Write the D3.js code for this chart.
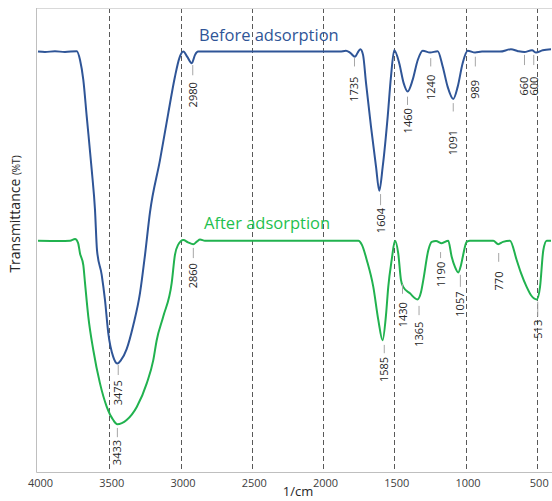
<!DOCTYPE html>
<html>
<head>
<meta charset="utf-8">
<script src="https://cdn.jsdelivr.net/npm/d3@7"></script>
<style>
  body { margin: 0; background: #fff; }
  svg { display: block; font-family: "Open Sans", "Noto Sans", sans-serif; }
</style>
</head>
<body>
<div id="ftir"></div>
<script>
// FTIR spectra before / after adsorption

// spectrum before adsorption (wavenumber 1/cm, transmittance)
const waveBefore = [4000, 3951, 3881, 3811, 3728, 3705, 3682, 3658, 3623, 3600, 3586, 3553, 3530, 3507, 3472, 3444, 3418, 3378, 3331, 3284, 3249, 3214, 3144, 3086, 3039, 3008, 2980, 2951, 2921, 2898, 2877, 1881, 1839, 1811, 1775, 1758, 1738, 1719, 1698, 1663, 1628, 1605, 1581, 1546, 1523, 1500, 1465, 1434, 1406, 1371, 1335, 1300, 1249, 1195, 1160, 1125, 1086, 1055, 1020, 985, 933, 884, 758, 681, 632, 587, 533, 505, 458, 400];
const transBefore = [90.6, 90.5, 90.7, 90.5, 90.7, 88.8, 84.5, 76.6, 65.1, 56.5, 47.8, 42.5, 37.1, 30.0, 24.8, 23.4, 24.1, 26.5, 31.7, 38.6, 46.8, 56.0, 67.2, 77.3, 85.2, 89.2, 90.6, 89.4, 88.1, 89.9, 90.6, 90.6, 90.8, 90.4, 89.5, 90.3, 91.1, 89.9, 83.8, 74.4, 65.8, 60.6, 65.8, 76.6, 85.2, 90.9, 88.1, 83.8, 82.0, 84.5, 88.8, 90.8, 90.4, 90.7, 87.4, 83.0, 80.4, 83.0, 88.1, 90.8, 90.4, 90.6, 90.6, 91.1, 90.7, 90.5, 90.9, 90.4, 90.9, 91.1];

// spectrum after adsorption
const waveAfter = [4000, 3846, 3775, 3740, 3719, 3705, 3682, 3670, 3647, 3612, 3565, 3518, 3472, 3444, 3378, 3307, 3237, 3191, 3167, 3121, 3062, 3039, 3018, 2980, 2947, 2910, 2884, 2863, 2828, 1752, 1726, 1693, 1647, 1612, 1582, 1558, 1542, 1518, 1495, 1472, 1453, 1437, 1390, 1338, 1312, 1296, 1261, 1237, 1207, 1167, 1121, 1097, 1074, 1051, 1033, 1019, 992, 968, 805, 770, 737, 688, 641, 611, 571, 540, 500, 477, 454, 430, 400];
const transAfter = [49.85, 49.8, 49.85, 50.2, 49.4, 47.1, 44.6, 40.7, 33.5, 26.3, 19.1, 14.1, 11.2, 10.3, 11.2, 14.0, 19.1, 24.1, 28.4, 33.5, 40.7, 46.8, 48.9, 50.0, 49.5, 49.1, 49.7, 50.1, 49.85, 49.85, 48.9, 45.7, 39.9, 32.8, 28.4, 33.8, 39.9, 45.7, 49.85, 47.1, 41.4, 39.9, 38.5, 37.2, 38.8, 41.4, 47.8, 49.6, 49.8, 49.3, 49.85, 46.4, 44.2, 43.0, 44.4, 46.4, 49.6, 49.85, 49.85, 49.1, 49.6, 49.85, 45.7, 42.9, 39.9, 38.1, 37.2, 39.9, 47.8, 49.85, 49.85];

// peak annotations: text, where it sits (1/cm), tick top, tick bottom, text top (transmittance)
const peaksBefore = [
  ["3475", 3437, 23.1, 20.9, 19.8],
  ["2980", 2914, 87.7, 85.5, 84.0],
  ["1735", 1779, 89.2, 87.4, 85.2],
  ["1604", 1596, 59.9, 57.5, 56.9],
  ["1460", 1407, 80.9, 79.1, 78.4],
  ["1240", 1244, 89.2, 87.4, 85.6],
  ["1091", 1086, 79.5, 77.7, 73.7],
  ["989", 931, 89.5, 87.4, 84.5],
  ["660", 586, 89.9, 87.7, 85.2],
  ["600", 521, 89.9, 87.7, 85.2]
];
const peaksAfter = [
  ["3433", 3443, 9.5, 7.5, 6.9],
  ["2860", 2910, 48.3, 46.1, 45.0],
  ["1585", 1570, 27.4, 25.6, 24.8],
  ["1430", 1442, 40.5, 38.4, 36.6],
  ["1365", 1326, 35.8, 33.8, 32.4],
  ["1190", 1175, 47.4, 46.1, 45.3],
  ["1057", 1036, 42.5, 39.9, 38.9],
  ["770", 767, 47.2, 45.3, 43.2],
  ["513", 493, 36.7, 33.5, 32.8]
];

const xTicks = [4000, 3500, 3000, 2500, 2000, 1500, 1000, 500];
const gridTicks = [3500, 3000, 2500, 2000, 1500, 1000, 500];

const width = 552, height = 501;
const blue = "#2f5597", green = "#21b24f";

const svg = d3.select("#ftir")
  .append("svg")
  .attr("width", width)
  .attr("height", height);

const xScale = d3.scaleLinear().domain([4000, 400]).range([38, 551]);
const yScale = d3.scaleLinear().domain([0, 100]).range([472, 8]);

// dashed vertical guides
svg.append("g")
  .selectAll("line")
  .data(gridTicks)
  .enter()
  .append("line")
    .attr("x1", d => Math.round(xScale(d)) + 0.5)
    .attr("x2", d => Math.round(xScale(d)) + 0.5)
    .attr("y1", yScale(100))
    .attr("y2", yScale(0))
    .attr("stroke", "#595959")
    .attr("stroke-width", 1)
    .attr("stroke-dasharray", "5,3");

// frame: top, left and bottom lines
svg.append("line")
  .attr("x1", 36.5).attr("x2", width)
  .attr("y1", 8.5).attr("y2", 8.5)
  .attr("stroke", "#d9d9d9");

svg.append("line")
  .attr("x1", 36.5).attr("x2", 36.5)
  .attr("y1", 8).attr("y2", 472.5)
  .attr("stroke", "#bfbfbf");

// x axis
const xAxis = svg.append("g")
  .attr("transform", `translate(0,${yScale(0) + 0.5})`)
  .call(d3.axisBottom(xScale)
    .tickValues(xTicks)
    .tickFormat(d3.format("d"))
    .tickSize(0)
    .tickPadding(7));
xAxis.select(".domain")
  .attr("stroke", "#bfbfbf")
  .attr("d", `M36.5,0H${width}`);
xAxis.selectAll("text")
  .attr("font-size", "11px")
  .attr("fill", "#404040")
  .attr("font-family", "'Open Sans', sans-serif")
  .attr("dx", 2);

// curves
const line = (xs, ys) => d3.line()
  .x((d, i) => xScale(xs[i]))
  .y((d, i) => yScale(ys[i]))
  .curve(d3.curveMonotoneX)(xs);

svg.append("path")
  .attr("d", line(waveAfter, transAfter))
  .attr("fill", "none")
  .attr("stroke", green)
  .attr("stroke-width", 2);

svg.append("path")
  .attr("d", line(waveBefore, transBefore))
  .attr("fill", "none")
  .attr("stroke", blue)
  .attr("stroke-width", 2);

// peak labels
function drawPeaks(peaks) {
  const g = svg.append("g");
  g.selectAll("line")
    .data(peaks)
    .enter()
    .append("line")
      .attr("x1", d => xScale(d[1]))
      .attr("x2", d => xScale(d[1]))
      .attr("y1", d => yScale(d[2]))
      .attr("y2", d => yScale(d[3]))
      .attr("stroke", "#a6a6a6")
      .attr("stroke-width", 1);
  g.selectAll("text")
    .data(peaks)
    .enter()
    .append("text")
      .attr("transform", d => `translate(${xScale(d[1]) + 4},${yScale(d[4])}) rotate(-90)`)
      .attr("text-anchor", "end")
      .attr("font-size", "11px")
      .attr("fill", "#262626")
      .text(d => d[0]);
}
drawPeaks(peaksBefore);
drawPeaks(peaksAfter);

// series titles
svg.append("text")
  .attr("x", 199)
  .attr("y", 41)
  .attr("font-size", "16.5px")
  .attr("fill", "#2f5597")
  .text("Before adsorption");

svg.append("text")
  .attr("x", 204)
  .attr("y", 229)
  .attr("font-size", "16.5px")
  .attr("fill", "#1fbf4f")
  .text("After adsorption");

// axis titles
svg.append("text")
  .attr("x", 298)
  .attr("y", 496)
  .attr("text-anchor", "middle")
  .attr("font-size", "13px")
  .attr("fill", "#262626")
  .text("1/cm");

const yTitle = svg.append("text")
  .attr("transform", "translate(20,214) rotate(-90)")
  .attr("text-anchor", "middle")
  .attr("fill", "#262626");
yTitle.append("tspan").attr("font-size", "14px").text("Transmittance ");
yTitle.append("tspan").attr("font-size", "10px").text("(%T)");
</script>
</body>
</html>
